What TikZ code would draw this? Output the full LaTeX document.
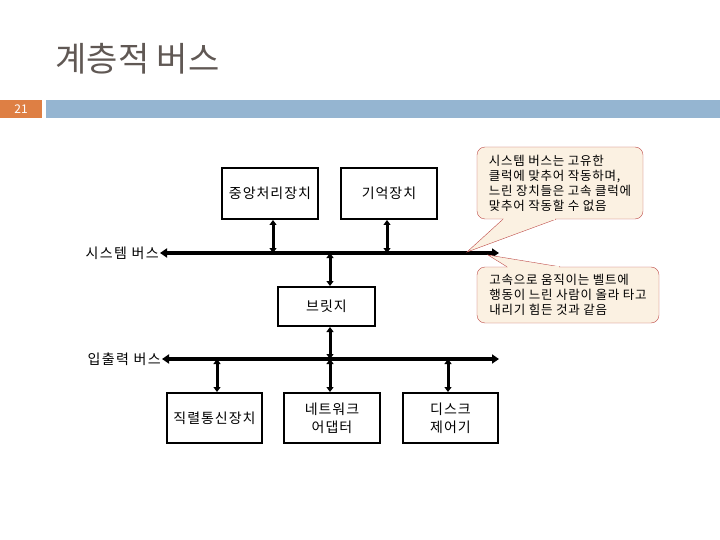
\documentclass[tikz,border=0pt]{standalone}
\usepackage{fontspec}
\setmainfont{Noto Sans CJK KR}
\newfontfamily\unitfont[LetterSpace=7]{Noto Sans CJK KR}
\newfontfamily\labelfont[LetterSpace=10]{Noto Sans CJK KR}
\newfontfamily\notefont[LetterSpace=6]{Noto Sans CJK KR}
\usetikzlibrary{arrows.meta, positioning}
\definecolor{titlegray}{RGB}{96,88,84}
\definecolor{slideorange}{RGB}{222,127,68}
\definecolor{slideblue}{RGB}{149,181,209}
\definecolor{notefill}{RGB}{251,241,226}
\definecolor{noteline}{RGB}{190,75,72}
\tikzstyle{unit} = [rectangle, draw=black, line width=2pt, minimum width=96pt, minimum height=51pt, align=center, font=\unitfont\fontsize{14pt}{18pt}\selectfont]
\tikzstyle{buslabel} = [anchor=east, inner sep=1pt, font=\labelfont\fontsize{14pt}{16pt}\selectfont]
\tikzstyle{bus} = [line width=4pt, {Triangle[width=9pt,length=7pt]}-{Triangle[width=9pt,length=7pt]}]
\tikzstyle{link} = [line width=3pt, {Triangle[width=7pt,length=5pt]}-{Triangle[width=7pt,length=5pt]}]
\tikzstyle{note} = [rectangle, draw=noteline, fill=notefill, rounded corners=8pt, align=left, inner sep=4pt, font=\notefont\fontsize{12.5pt}{15pt}\selectfont]
\tikzstyle{tail} = [draw=noteline, fill=notefill]

\begin{document}
\begin{tikzpicture}[x=1pt, y=-1pt]
\useasboundingbox (0,0) rectangle (720,540);

% slide header
\node (title) [anchor=west, text=titlegray, font=\fontsize{34pt}{40pt}\selectfont] at (52,59) {계층적 버스};
\fill [slideorange] (0,100) rectangle (42,118);
\node (page) [text=white, font=\fontsize{12pt}{12pt}\selectfont] at (21,109) {21};
\fill [slideblue] (46,100) rectangle (720,118);

% buses
\coordinate (sysL) at (160,253);
\coordinate (sysR) at (499,253);
\coordinate (ioL) at (162,359);
\coordinate (ioR) at (499,359);
\draw [bus] (sysL) -- (sysR);
\draw [bus] (ioL) -- (ioR);
\node (syslabel) [buslabel] at (sysL) {시스템 버스};
\node (iolabel) [buslabel] at (ioL) {입출력 버스};

% units
\node (cpu) [unit] at (270,193.5) {중앙처리장치};
\node (mem) [unit] at (389,193.5) {기억장치};
\node (bridge) [unit, minimum height=39pt, minimum width=97pt] at (326.5,306.5) {브릿지};
\node (serial) [unit, minimum height=50pt, minimum width=95pt] at (214.5,418) {직렬통신장치};
\node (nic) [unit, minimum height=50pt] at (332,418) {네트워크\\어댑터};
\node (disk) [unit, minimum height=50pt, minimum width=95pt] at (450.5,418) {디스크\\제어기};

% connectors
\draw [link] (cpu.south -| 273,0) -- (273,253);
\draw [link] (mem.south -| 387,0) -- (387,253);
\draw [link] (330,253) -- (bridge.north -| 330,0);
\draw [link] (bridge.south -| 330,0) -- (330,359);
\draw [link] (217,359) -- (serial.north -| 217,0);
\draw [link] (330,359) -- (nic.north -| 330,0);
\draw [link] (448,359) -- (disk.north -| 448,0);

% notes
\coordinate (systip) at (467,252);
\coordinate (iotip) at (488,255);
\node (sysnote) [note, minimum width=166pt, minimum height=72pt] at (560,183) {시스템 버스는 고유한\\클럭에 맞추어 작동하며,\\느린 장치들은 고속 클럭에\\맞추어 작동할 수 없음};
\node (ionote) [note, minimum width=182pt, minimum height=56pt] at (568,295) {고속으로 움직이는 벨트에\\행동이 느린 사람이 올라 타고\\내리기 힘든 것과 같음};
\filldraw [tail] (sysnote.south -| 503,0) -- (systip) -- (sysnote.south -| 556,0);
\draw [notefill, line width=1.6pt] (sysnote.south -| 504,0) -- (sysnote.south -| 555,0);
\filldraw [tail] (ionote.north -| 507,0) -- (iotip) -- (ionote.north -| 560,0);
\draw [notefill, line width=1.6pt] (ionote.north -| 508,0) -- (ionote.north -| 559,0);

\end{tikzpicture}
\end{document}
